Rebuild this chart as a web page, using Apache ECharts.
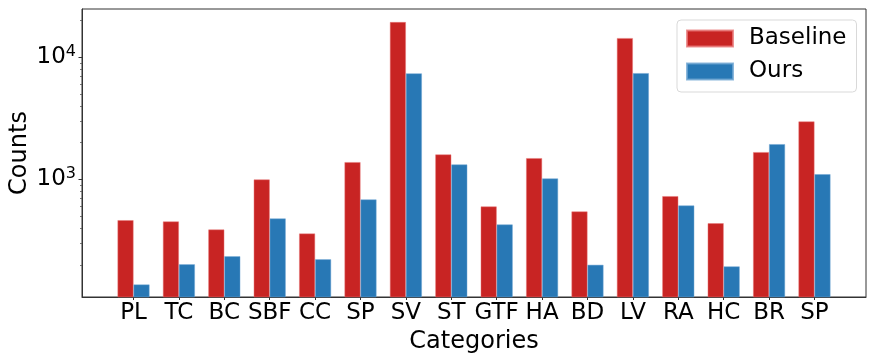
<!DOCTYPE html>
<html>
<head>
<meta charset="utf-8">
<script src="https://cdn.jsdelivr.net/npm/echarts@6/dist/echarts.min.js"></script>
<style>html,body{margin:0;padding:0;background:#fff;}#c{width:875px;height:362px;}</style>
</head>
<body>
<div id="c"></div>
<script>
const categories = ['PL','TC','BC','SBF','CC','SP','SV','ST','GTF','HA','BD','LV','RA','HC','BR','SP'];
const baseline = [464,453,389,1000,361,1387,19470,1603,601,1495,547,14390,730,438,1675,2986];
const ours = [138,202,235,479,222,686,7396,1327,428,1019,200,7430,612,194,1946,1105];
const yMajorExponents = [3,4];
const seriesNames = ['Baseline','Ours'];

const Y_MIN = 109, Y_MAX = 24900;
const LMIN = Math.log10(Y_MIN), LMAX = Math.log10(Y_MAX);
const minorLog = [];
for (let e = 2; e <= 4; e++) for (let k = 2; k <= 9; k++) {
  const l = Math.log10(k * Math.pow(10, e));
  if (l > LMIN && l < LMAX) minorLog.push(l);
}
const xIdx = categories.map((_, i) => i);
const FONT = 'DejaVu Sans';

const chart = echarts.init(document.getElementById('c'), null, {renderer: 'canvas'});
chart.setOption({
  animation: false,
  grid: {left: 80, right: 9, top: 9, bottom: 65, show: true, borderColor: '#333', borderWidth: 1, backgroundColor: 'transparent'},
  legend: {
    orient: 'vertical', left: 677, top: 20,
    data: seriesNames,
    icon: 'rect', itemWidth: 46, itemHeight: 16, itemGap: 10,
    padding: [7, 10, 9, 9],
    borderColor: '#d9d9d9', borderWidth: 1, borderRadius: 4,
    textStyle: {fontFamily: FONT, fontSize: 23, color: '#000', padding: [0, 0, 0, 11]}
  },
  xAxis: {
    type: 'value', min: -1.135, max: 16.135,
    axisLine: {show: true, onZero: false, lineStyle: {color: '#333'}},
    splitLine: {show: false},
    axisTick: {show: true, length: 3, customValues: xIdx, lineStyle: {color: '#333'}},
    axisLabel: {customValues: xIdx, formatter: v => categories[Math.round(v)], fontFamily: FONT, fontSize: 23, color: '#000', margin: 5},
    name: 'Categories', nameLocation: 'middle', nameGap: 31,
    nameTextStyle: {fontFamily: FONT, fontSize: 24, color: '#000'}
  },
  yAxis: [
    {
      type: 'log', logBase: 10, min: Y_MIN, max: Y_MAX,
      axisLine: {show: true, onZero: false, lineStyle: {color: '#333'}},
      axisTick: {show: false}, axisLabel: {show: false}, splitLine: {show: false},
      name: 'Counts', nameLocation: 'middle', nameGap: 50,
      nameTextStyle: {fontFamily: FONT, fontSize: 24, color: '#000'}
    },
    {
      type: 'value', min: LMIN, max: LMAX, position: 'left',
      axisLine: {show: false, onZero: false}, splitLine: {show: false},
      axisTick: {show: true, length: 3.5, customValues: yMajorExponents, lineStyle: {color: '#333'}},
      axisLabel: {
        customValues: yMajorExponents, margin: 6,
        formatter: v => '{b|10}{s|' + Math.round(v) + '}',
        rich: {
          b: {fontFamily: FONT, fontSize: 23, color: '#000'},
          s: {fontFamily: FONT, fontSize: 16, color: '#000', padding: [0, 0, 12, 0]}
        }
      }
    },
    {
      type: 'value', min: LMIN, max: LMAX, position: 'left',
      axisLine: {show: false, onZero: false}, splitLine: {show: false},
      axisTick: {show: true, length: 2, customValues: minorLog, lineStyle: {color: '#555', width: 0.8}},
      axisLabel: {show: false}
    }
  ],
  series: [
    {name: seriesNames[0], type: 'bar', yAxisIndex: 0, barWidth: 16, barGap: '0%',
     data: baseline.map((v, i) => [xIdx[i], v]),
     itemStyle: {color: '#c82423', borderColor: 'rgba(232,120,120,0.8)', borderWidth: 0.6}},
    {name: seriesNames[1], type: 'bar', yAxisIndex: 0, barWidth: 16, barGap: '0%',
     data: ours.map((v, i) => [xIdx[i], v]),
     itemStyle: {color: '#2878b5', borderColor: 'rgba(110,165,210,0.8)', borderWidth: 0.6}}
  ]
});
</script>
</body>
</html>
